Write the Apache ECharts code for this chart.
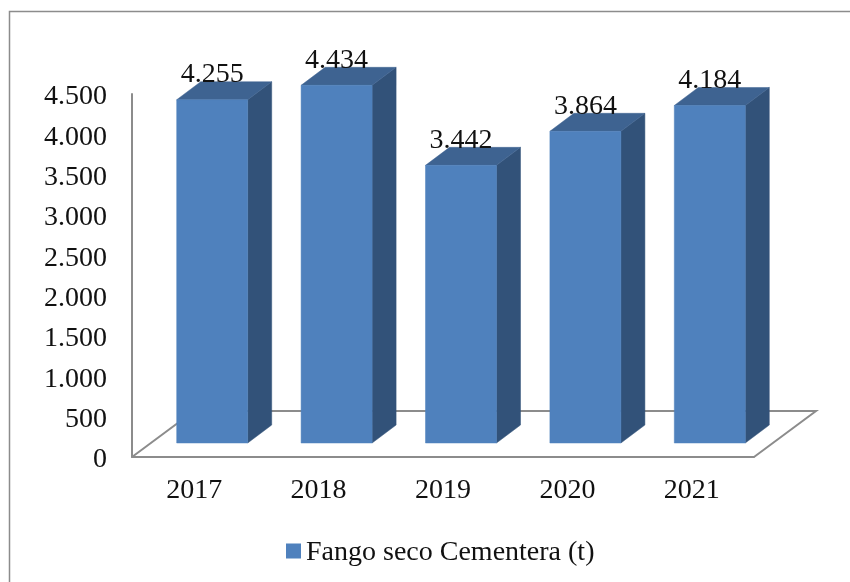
<!DOCTYPE html>
<html>
<head>
<meta charset="utf-8">
<style>html,body{margin:0;padding:0;background:#fff}#c{width:850px;height:582px}</style>
<script src="https://cdn.jsdelivr.net/npm/echarts@6/dist/echarts.min.js"></script>
</head>
<body>
<div id="c"></div>
<script>
const categories = ['2017', '2018', '2019', '2020', '2021'];
const seriesName = 'Fango seco Cementera (t)';
const values = [4255, 4434, 3442, 3864, 4184];

const FRONT = '#4F81BD', TOP = '#3E6391', SIDE = '#325279', EDGE = '#8C8C8C', TEXT = '#111';
const FONT = '"Liberation Serif", serif';
const fmt = v => String(v).replace(/\B(?=(\d{3})+$)/g, '.');

const chart = echarts.init(document.getElementById('c'), null, {renderer: 'canvas'});

function renderFloor(params, api) {
  const cs = params.coordSys, dx = 62, dy = 46, s = {fill: 'none', stroke: EDGE, lineWidth: 2};
  const x0 = cs.x, y0 = cs.y + cs.height, x1 = cs.x + cs.width;
  return {type: 'polyline', silent: true, shape: {points: [
    [x0, y0], [x0 + dx, y0 - dy], [x1 + dx, y0 - dy], [x1, y0]
  ]}, style: s};
}

function renderBar(params, api) {
  const i = api.value(0), v = api.value(1);
  const c = api.coord([i, v]), b = api.coord([i, 0]);
  const w = 71, dx = 24, dy = 18, lift = 14, shift = 18;
  const l = c[0] + shift - w / 2, r = l + w, t = c[1] - lift, bt = b[1] - lift;
  return {type: 'group', children: [
    {type: 'polygon', shape: {points: [[r, t], [r + dx, t - dy], [r + dx, bt - dy], [r, bt]]},
     style: {fill: SIDE, stroke: SIDE, lineWidth: 0.5}},
    {type: 'polygon', shape: {points: [[l, t], [l + dx, t - dy], [r + dx, t - dy], [r, t]]},
     style: {fill: TOP, stroke: TOP, lineWidth: 0.5}},
    {type: 'rect', shape: {x: l, y: t, width: w, height: bt - t},
     style: {fill: FRONT, stroke: FRONT, lineWidth: 0.5}},
    {type: 'text', z2: 10, style: {
      text: fmt(v), x: (l + r) / 2, y: t - 11, align: 'center', verticalAlign: 'bottom',
      font: '28px ' + FONT, fill: TEXT}}
  ]};
}

chart.setOption({
  animation: false,
  backgroundColor: '#fff',
  color: [FRONT],
  graphic: [{type: 'rect', z: -10, silent: true, shape: {x: 9.5, y: 11.5, width: 900, height: 700},
    style: {fill: 'none', stroke: EDGE, lineWidth: 1.5}}],
  grid: {left: 132, top: 94, width: 622, height: 363, containLabel: false},
  legend: {
    data: [seriesName], left: 281, top: 534, itemWidth: 15, itemHeight: 19, itemGap: 6,
    icon: 'path://M0 0H15V15H0ZM0 19H0.01V19Z',
    textStyle: {fontFamily: FONT, fontSize: 28, color: TEXT}
  },
  xAxis: {
    type: 'category', data: categories,
    axisLine: {lineStyle: {color: EDGE, width: 2}}, axisTick: {show: false},
    axisLabel: {fontFamily: FONT, fontSize: 28, color: TEXT, margin: 20}
  },
  yAxis: {
    type: 'value', min: 0, max: 4500, interval: 500,
    axisLine: {show: true, lineStyle: {color: EDGE, width: 2}}, axisTick: {show: false},
    splitLine: {show: false},
    axisLabel: {fontFamily: FONT, fontSize: 28, color: TEXT, margin: 25, verticalAlign: 'top', lineHeight: 6, formatter: fmt}
  },
  series: [
    {type: 'custom', name: 'floor', z: 1, silent: true, renderItem: renderFloor, data: [0], clip: false, tooltip: {show: false}},
    {type: 'custom', name: seriesName, z: 3, renderItem: renderBar, clip: false,
     encode: {x: 0, y: 1},
     data: values.map((v, i) => [i, v])}
  ]
});
</script>
</body>
</html>
